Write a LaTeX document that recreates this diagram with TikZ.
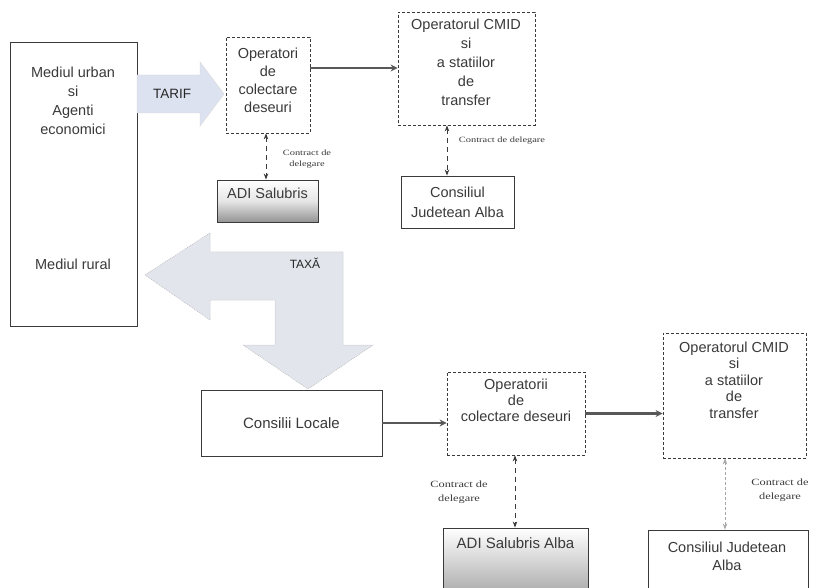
\documentclass[tikz,border=0pt]{standalone}
\usepackage{fontspec}
\setmainfont{Liberation Sans}
\newfontfamily\lblfont[FakeStretch=1.3]{Liberation Serif}
\usetikzlibrary{arrows.meta,calc}
\definecolor{ink}{HTML}{3A3A3A}
\definecolor{arrowfill}{HTML}{E2E5EC}
\definecolor{tariffill}{HTML}{DCE2EF}
\tikzset{
  sbox/.style={draw=ink, line width=0.9pt, inner sep=0pt, fill=white},
  dbox/.style={draw=ink, line width=0.8pt, dash pattern=on 3pt off 2pt, inner sep=0pt},
  txt/.style={text=ink, align=center, font=\fontsize{14.5}{19}\selectfont, inner sep=0pt},
  lbl/.style={text=ink, align=center, font=\lblfont\fontsize{8}{10}\selectfont, inner sep=0pt},
  lblb/.style={text=ink, align=center, font=\lblfont\fontsize{9.5}{14}\selectfont, inner sep=0pt},
  sarrow/.style={draw=ink!85, line width=2.4pt, -{Stealth[length=7pt,width=7pt]}},
  darrow/.style={draw=ink, line width=0.8pt, dash pattern=on 5pt off 4pt, {Stealth[length=6pt,width=4.5pt]}-{Stealth[length=6pt,width=4.5pt]}},
  garrow/.style={draw=gray!70, line width=0.9pt, dash pattern=on 3pt off 2pt, {Stealth[length=6pt,width=4.5pt]}-{Stealth[length=6pt,width=4.5pt]}},
  shadebox/.style={draw=ink, line width=0.9pt, inner sep=0pt, top color=white, bottom color=black!42, middle color=black!10}
}
\begin{document}
\begin{tikzpicture}[x=1pt,y=-1pt]
\useasboundingbox (0,0) rectangle (814,588);
\clip (0,0) rectangle (814,588);
\fill[white] (0,0) rectangle (814,588);

% left box
\node[sbox, minimum width=127pt, minimum height=284pt] (lb) at (73.5,184) {};
\node[txt] (urb) at (73,101) {Mediul urban\\si\\Agenti\\economici};
\node[txt] (rur) at (73,264) {Mediul rural};

% TARIF arrow
\path[fill=tariffill, draw=gray!30, line width=0.4pt]
  (137,75) -- (200,75) -- (200,62) -- (224,94) -- (200,126) -- (200,113) -- (137,113) -- cycle;
\node[txt, text=black!85, font=\fontsize{13.5}{15}\selectfont] (tarif) at (172,94) {TARIF};

% top row
\node[dbox, minimum width=84pt, minimum height=96pt] (op1) at (268,85) {};
\node[txt, font=\fontsize{14.5}{18}\selectfont] (op1t) at (268,80) {Operatori\\de\\colectare\\deseuri};
\node[dbox, minimum width=137pt, minimum height=113pt] (cm1) at (466.5,68.5) {};
\node[txt, font=\fontsize{14.5}{19}\selectfont] (cm1t) at (466,62) {Operatorul CMID\\si\\a statiilor\\de\\transfer};
\coordinate (a1) at ([yshift=17pt]op1.east);
\draw[sarrow] (a1) -- (a1 -| cm1.west);

\node[sbox, minimum width=113pt, minimum height=52pt] (cj1) at (457.5,202) {};
\node[txt, font=\fontsize{14.5}{20}\selectfont] (cj1t) at (457.5,202) {Consiliul\\Judetean Alba};
\coordinate (c1) at ($(cm1.south)+(-19.5,0)$);
\draw[darrow] (c1) -- (c1 |- cj1.north);
\node[lbl] (l1) at (502,141) {Contract de delegare};

\node[shadebox, minimum width=101pt, minimum height=42pt] (adi1) at (267.5,201) {};
\node[txt] (adi1t) at (267.5,193) {ADI Salubris};
\coordinate (c2) at ($(op1.south)+(-2,0)$);
\draw[darrow] (c2) -- (c2 |- adi1.north);
\node[lblb, font=\lblfont\fontsize{8}{11}\selectfont] (l2) at (307,159) {Contract de\\delegare};

% TAXA arrow
\path[fill=arrowfill, draw=gray!55, line width=0.5pt, dash pattern=on 1pt off 1pt]
  (145,275) -- (210,233) -- (210,252) -- (343,252) -- (343,345) -- (373,345)
  -- (308,389) -- (243,345) -- (275,345) -- (275,300) -- (210,300) -- (210,320) -- cycle;
\node[txt, text=black!85, font=\fontsize{12}{13}\selectfont] (taxa) at (305,263) {TAXĂ};

% bottom row
\node[sbox, minimum width=181pt, minimum height=66pt] (cl) at (291.5,423) {};
\node[txt, font=\fontsize{15}{18}\selectfont] (clt) at (291.5,423) {Consilii Locale};
\node[dbox, minimum width=138pt, minimum height=83pt] (op2) at (516,413.5) {};
\node[txt, font=\fontsize{14.5}{16}\selectfont] (op2t) at (516,400) {Operatorii\\de\\colectare deseuri};
\draw[sarrow] (cl.east) -- (cl.east -| op2.west);
\node[dbox, minimum width=143pt, minimum height=125pt] (cm2) at (734.5,395.5) {};
\node[txt, font=\fontsize{14.5}{16.5}\selectfont] (cm2t) at (734,380) {Operatorul CMID\\si\\a statiilor\\de\\transfer};
\draw[sarrow] (op2.east) -- (op2.east -| cm2.west);

\node[shadebox, minimum width=145pt, minimum height=80pt, top color=white, middle color=white, bottom color=black!40] (adi2) at (515.5,568) {};
\node[txt, font=\fontsize{15}{18}\selectfont] (adi2t) at (515.5,543) {ADI Salubris Alba};
\coordinate (c3) at ($(op2.south)+(-1,0)$);
\draw[darrow] (c3) -- (c3 |- adi2.north);
\node[lblb] (l3) at (459,492) {Contract de\\delegare};

\node[sbox, minimum width=160pt, minimum height=80pt] (cj2) at (728,570) {};
\node[txt, font=\fontsize{14.5}{18}\selectfont] (cj2t) at (727,556) {Consiliul Judetean\\Alba};
\coordinate (c4) at ($(cm2.south)+(-9.5,0)$);
\draw[garrow] (c4) -- (c4 |- cj2.north);
\node[lblb] (l4) at (780,490) {Contract de\\delegare};
\end{tikzpicture}
\end{document}
